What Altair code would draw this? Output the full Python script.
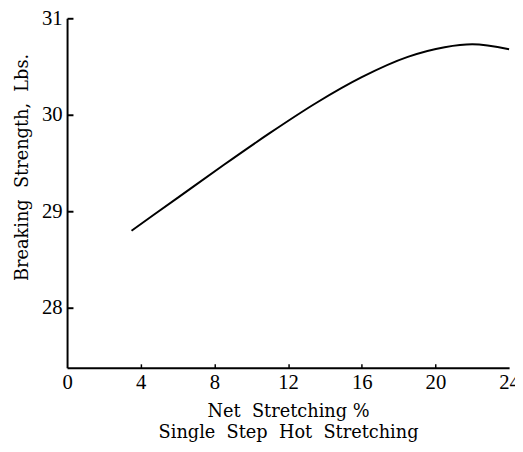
import altair as alt
import pandas as pd

stretch = [3.5, 6, 8.5, 11, 13.5, 16, 18.5, 20.5, 22, 24]
strength = [28.80, 29.14, 29.48, 29.81, 30.12, 30.39, 30.60, 30.70, 30.73, 30.68]
x_ticks = [0, 4, 8, 12, 16, 20, 24]
y_ticks = [28, 29, 30, 31]

df = pd.DataFrame({"x": stretch, "y": strength})
LFONT = "Liberation Serif"
TFONT = "DejaVu Serif"
NB = "\u00a0"

xscale = alt.Scale(domain=[0, 24], nice=False, zero=False)
yscale = alt.Scale(domain=[27.38, 31], nice=False, zero=False)

line = alt.Chart(df).mark_line(color="black", strokeWidth=2, interpolate="monotone").encode(
    x=alt.X("x:Q", scale=xscale,
            axis=alt.Axis(values=x_ticks, ticks=False, labelPadding=4, labelFlush=False,
                          title=[f"Net{NB}{NB}Stretching{NB}%", f"Single{NB}{NB}Step{NB}{NB}Hot{NB}{NB}Stretching"],
                          titlePadding=10, titleLineHeight=22)),
    y=alt.Y("y:Q", scale=yscale,
            axis=alt.Axis(values=y_ticks, ticks=False, labelPadding=5,
                          title=f"Breaking{NB}{NB}Strength,{NB}{NB}Lbs.", titleY=151, titleX=-36)),
)

tick_layer = alt.Chart(df).mark_line(opacity=0).encode(
    x=alt.X("x:Q", scale=xscale,
            axis=alt.Axis(orient="bottom", values=[4, 8, 12, 16, 20], labels=False, domain=False,
                          ticks=True, tickSize=4, tickWidth=1.5, tickColor="black", offset=-4, title=None)),
    y=alt.Y("y:Q", scale=yscale,
            axis=alt.Axis(orient="left", values=y_ticks, labels=False, domain=False,
                          ticks=True, tickSize=6, tickWidth=2, tickColor="black", offset=-6, title=None)),
)

chart = alt.layer(line, tick_layer).resolve_axis(x="independent", y="independent").properties(
    width=449, height=355,
    autosize=alt.AutoSizeParams(type="none"),
    padding={"left": 60, "top": 7, "right": 6, "bottom": 75},
).configure_view(stroke=None).configure_axis(
    grid=False, domainColor="black", domainWidth=2,
    labelFont=LFONT, labelFontSize=21, labelColor="black",
    titleFont=TFONT, titleFontSize=18, titleFontWeight="normal", titleColor="black",
)

chart.save("out.html", embed_options={"renderer": "svg", "actions": False})
